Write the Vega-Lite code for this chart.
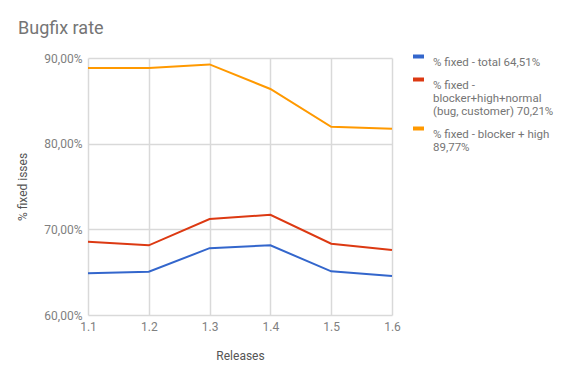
{
  "$schema": "https://vega.github.io/schema/vega-lite/v6.json",
  "width": 304,
  "height": 257,
  "autosize": {"type": "none"},
  "padding": {"left": 88, "top": 58, "right": 179, "bottom": 57},
  "background": "white",
  "title": {
    "text": "Bugfix rate",
    "anchor": "start",
    "frame": "group",
    "dx": -70,
    "offset": 11,
    "fontSize": 18,
    "font": "Roboto",
    "fontWeight": "normal",
    "color": "#757575"
  },
  "config": {
    "font": "Roboto",
    "view": {"stroke": null}
  },
  "data": {
    "values": [
      {"release": 1.1, "series": "total", "value": 64.86},
      {"release": 1.2, "series": "total", "value": 65.05},
      {"release": 1.3, "series": "total", "value": 67.8},
      {"release": 1.4, "series": "total", "value": 68.13},
      {"release": 1.5, "series": "total", "value": 65.1},
      {"release": 1.6, "series": "total", "value": 64.55},
      {"release": 1.1, "series": "bhn", "value": 68.55},
      {"release": 1.2, "series": "bhn", "value": 68.13},
      {"release": 1.3, "series": "bhn", "value": 71.2},
      {"release": 1.4, "series": "bhn", "value": 71.7},
      {"release": 1.5, "series": "bhn", "value": 68.32},
      {"release": 1.6, "series": "bhn", "value": 67.58},
      {"release": 1.1, "series": "bh", "value": 88.83},
      {"release": 1.2, "series": "bh", "value": 88.83},
      {"release": 1.3, "series": "bh", "value": 89.25},
      {"release": 1.4, "series": "bh", "value": 86.38},
      {"release": 1.5, "series": "bh", "value": 81.97},
      {"release": 1.6, "series": "bh", "value": 81.74}
    ]
  },
  "mark": {"type": "line", "strokeWidth": 2},
  "encoding": {
    "x": {
      "field": "release",
      "type": "quantitative",
      "scale": {"domain": [1.1, 1.6], "nice": false, "zero": false},
      "axis": {
        "values": [1.1, 1.2, 1.3, 1.4, 1.5, 1.6],
        "format": ".1f",
        "title": "Releases",
        "titleFont": "Roboto",
        "titleFontSize": 12,
        "titleFontWeight": "normal",
        "titleColor": "#555555",
        "titlePadding": 18,
        "labelFont": "Roboto",
        "labelFontSize": 12,
        "labelColor": "#808080",
        "labelPadding": 6,
        "labelFlush": false,
        "ticks": false,
        "domain": false,
        "grid": true,
        "gridColor": "#d9d9d9",
        "gridWidth": 1.5
      }
    },
    "y": {
      "field": "value",
      "type": "quantitative",
      "scale": {"domain": [60, 90], "nice": false, "zero": false},
      "axis": {
        "values": [60, 70, 80, 90],
        "labelExpr": "replace(format(datum.value, '.2f'), '.', ',') + '%'",
        "title": "% fixed isses",
        "titleFont": "Roboto",
        "titleFontSize": 12,
        "titleFontWeight": "normal",
        "titleColor": "#555555",
        "titlePadding": 14,
        "labelFont": "Roboto",
        "labelFontSize": 12,
        "labelColor": "#808080",
        "labelPadding": 6,
        "labelFlush": false,
        "ticks": false,
        "domain": false,
        "grid": true,
        "gridColor": "#d9d9d9",
        "gridWidth": 1.5
      }
    },
    "color": {
      "field": "series",
      "type": "nominal",
      "scale": {
        "domain": ["total", "bhn", "bh"],
        "range": ["#3366cc", "#dc3912", "#ff9900"]
      },
      "legend": {
        "orient": "none",
        "legendX": 323,
        "legendY": -9,
        "title": null,
        "labelExpr": "datum.value == 'total' ? '% fixed - total 64,51%' : datum.value == 'bhn' ? ['% fixed -', 'blocker+high+normal', '(bug, customer) 70,21%'] : ['% fixed - blocker + high', '89,77%']",
        "labelFont": "Roboto",
        "labelFontSize": 11.5,
        "labelColor": "#757575",
        "labelLimit": 200,
        "labelOffset": 7,
        "labelBaseline": "top",
        "symbolType": "stroke",
        "symbolSize": 121,
        "symbolStrokeWidth": 4,
        "rowPadding": 3,
        "encode": {
          "labels": {"update": {"lineHeight": {"value": 13}}}
        }
      }
    }
  }
}
